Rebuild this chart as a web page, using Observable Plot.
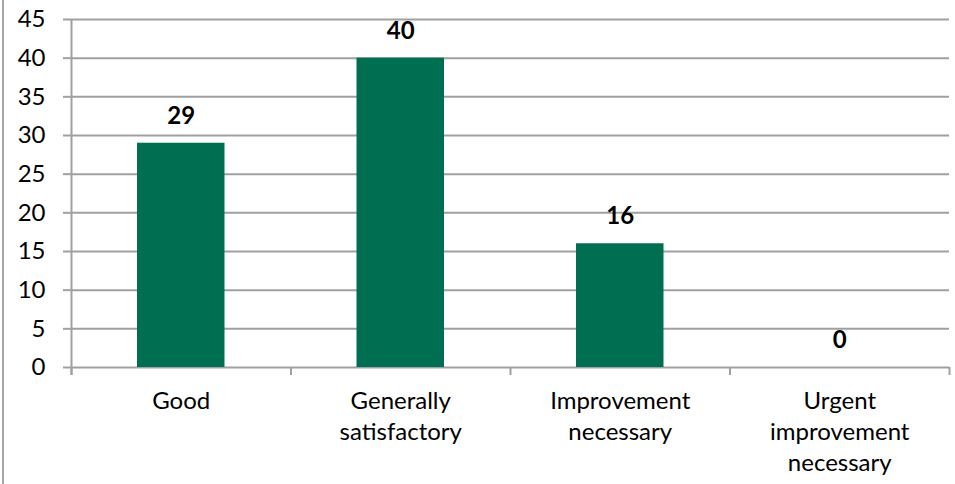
<!DOCTYPE html>
<html>
<head>
<meta charset="utf-8">
<script src="https://cdn.jsdelivr.net/npm/d3@7"></script>
<script src="https://cdn.jsdelivr.net/npm/@observablehq/plot@0.6"></script>
<style>
  html, body { margin: 0; padding: 0; background: #fff; }
  #wrap { position: relative; width: 955px; height: 484px; }
  #edge { position: absolute; left: 2px; top: 0; width: 2px; height: 484px; background: #a6a6a6; }
</style>
</head>
<body>
<div id="wrap"><div id="edge"></div></div>
<script>
// Inspection outcomes: count of reports in each rating
const categories = ["Good", "Generally\nsatisfactory", "Improvement\nnecessary", "Urgent\nimprovement\nnecessary"];
const counts = [29, 40, 16, 0];
const yTicks = [0, 5, 10, 15, 20, 25, 30, 35, 40, 45];

const rows = categories.map((category, i) => ({category, count: counts[i], i}));
const slots = d3.range(categories.length + 1);

const grey = "#a0a0a0";
const green = "#006f51";

const chart = Plot.plot({
  width: 955,
  height: 484,
  marginLeft: 71,
  marginRight: 6,
  marginTop: 19,
  marginBottom: 117,
  style: {fontFamily: "Lato, sans-serif", fontSize: "24px", color: "#000", background: "transparent"},
  x: {domain: [0, categories.length], axis: null, label: null},
  y: {domain: [0, 45], axis: null, label: null},
  marks: [
    Plot.gridY(yTicks, {stroke: grey, strokeOpacity: 1, strokeWidth: 2}),
    Plot.axisY(yTicks, {tickSize: 8, tickPadding: 18, stroke: grey, strokeWidth: 2, fill: "#000", fontSize: 24, label: null}),
    Plot.ruleX([0], {stroke: grey, strokeWidth: 2, insetBottom: -8}),
    Plot.axisX(slots, {tickSize: 8, tickFormat: () => "", stroke: grey, strokeWidth: 2, label: null}),
    Plot.rectY(rows, {x1: "i", x2: d => d.i + 1, y: "count", fill: green, insetLeft: 66, insetRight: 66}),
    Plot.text(rows, {x: d => d.i + 0.5, y: "count", text: d => String(d.count), dy: -27, fontWeight: "bold", fontSize: 24, fill: "#000"}),
    Plot.text(rows, {x: d => d.i + 0.5, y: 0, text: "category", lineAnchor: "top", dy: 19, lineHeight: 1.3, fontSize: 24, fill: "#000"})
  ]
});

document.getElementById("wrap").appendChild(chart);
chart.style.position = "absolute";
chart.style.left = "0";
chart.style.top = "0";
</script>
</body>
</html>
